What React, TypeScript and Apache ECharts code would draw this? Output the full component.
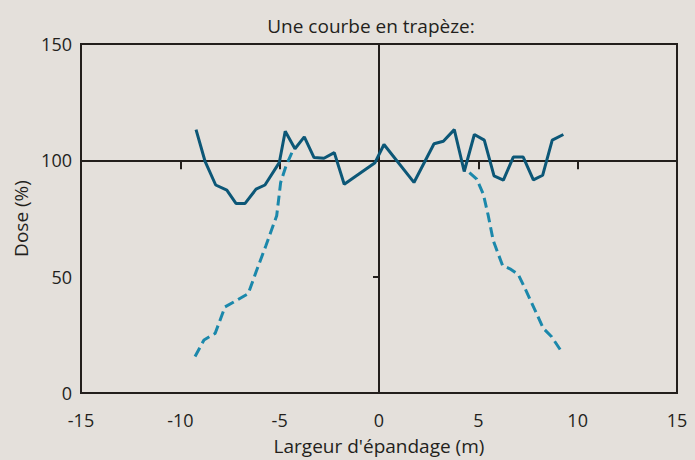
import React, { useEffect, useRef } from "react";
import * as echarts from "echarts";

const solidX = [-9.21, -8.76, -8.22, -7.66, -7.2, -6.74, -6.19, -5.74, -5.02, -4.72, -4.23, -3.76, -3.27, -2.77, -2.25, -1.75, -0.2, 0.25, 1.76, 2.77, 3.24, 3.79, 4.29, 4.8, 5.3, 5.79, 6.26, 6.76, 7.26, 7.77, 8.24, 8.72, 9.28];
const solidY = [113.2, 99.7, 89.4, 87.2, 81.5, 81.5, 87.6, 89.4, 99.0, 112.5, 105.0, 110.1, 101.2, 100.9, 103.3, 89.7, 99.0, 106.8, 90.5, 107.1, 108.2, 113.2, 95.2, 111.1, 108.7, 93.3, 91.5, 101.4, 101.4, 91.6, 93.6, 108.7, 111.1];

const dashLeftX = [-9.26, -8.81, -8.25, -7.75, -7.25, -6.58, -6.19, -5.69, -5.15, -4.95, -4.68, -4.35];
const dashLeftY = [15.7, 22.8, 25.6, 37.0, 39.4, 42.7, 52.0, 63.4, 76.2, 90.5, 97.6, 104.0];

const dashRightX = [4.55, 4.92, 5.25, 5.5, 5.75, 6.22, 6.59, 7.01, 7.43, 8.27, 8.69, 9.24];
const dashRightY = [94.7, 91.9, 85.5, 76.2, 65.5, 54.8, 53.4, 50.9, 43.5, 27.8, 24.2, 17.1];

const xTicks = { min: -15, max: 15, interval: 5 };
const yTicks = { min: 0, max: 150, interval: 50 };

const title = "Une courbe en trapèze:";
const xName = "Largeur d'épandage (m)";
const yName = "Dose (%)";

const zip = (xs: number[], ys: number[]) => xs.map((x, i) => [x, ys[i]]);

const BG = "#e4e0db";
const INK = "#231f1c";
const FONT = "Open Sans";

export default function App() {
  const ref = useRef<HTMLDivElement>(null);
  useEffect(() => {
    if (!ref.current) return;
    const chart = echarts.init(ref.current, null, { renderer: "svg" });
    chart.setOption({
      animation: false,
      backgroundColor: BG,
      textStyle: { fontFamily: FONT },
      title: {
        text: title,
        left: 366,
        textAlign: "center",
        top: 11,
        textStyle: { fontFamily: FONT, fontSize: 19, fontWeight: "normal", color: INK },
      },
      grid: {
        left: 81,
        right: 18,
        top: 44,
        bottom: 65,
        show: true,
        borderColor: INK,
        borderWidth: 2,
        backgroundColor: "transparent",
      },
      xAxis: [
        {
          type: "value",
          ...xTicks,
          position: "bottom",
          name: xName,
          nameLocation: "middle",
          nameGap: 43,
          nameTextStyle: { fontFamily: FONT, fontSize: 19, color: INK },
          axisLine: { show: false },
          axisTick: { show: false },
          splitLine: { show: false },
          axisLabel: { fontFamily: FONT, fontSize: 18, color: INK, margin: 18 },
        },
        {
          type: "value",
          ...xTicks,
          position: "bottom",
          axisLine: { show: true, onZero: true, onZeroAxisIndex: 1, lineStyle: { color: INK, width: 2 } },
          axisTick: { show: true, inside: false, length: 9, lineStyle: { color: INK, width: 2 } },
          axisLabel: { show: false },
          splitLine: { show: false },
        },
      ],
      yAxis: [
        {
          type: "value",
          ...yTicks,
          position: "left",
          name: yName,
          nameLocation: "middle",
          nameGap: 50,
          nameTextStyle: { fontFamily: FONT, fontSize: 19, color: INK },
          axisLine: { show: false },
          axisTick: { show: false },
          splitLine: { show: false },
          axisLabel: { fontFamily: FONT, fontSize: 18, color: INK, margin: 9 },
        },
        {
          type: "value",
          min: -100,
          max: 50,
          interval: 50,
          position: "left",
          axisLine: { show: true, onZero: true, onZeroAxisIndex: 0, lineStyle: { color: INK, width: 2 } },
          axisTick: { show: true, inside: false, length: 6, lineStyle: { color: INK, width: 2 } },
          axisLabel: { show: false },
          splitLine: { show: false },
        },
      ],
      series: [
        {
          type: "line",
          data: zip(dashLeftX, dashLeftY),
          xAxisIndex: 0,
          yAxisIndex: 0,
          symbol: "none",
          lineStyle: { color: "#1b88ab", width: 3, type: [10, 5] },
        },
        {
          type: "line",
          data: zip(dashRightX, dashRightY),
          xAxisIndex: 0,
          yAxisIndex: 0,
          symbol: "none",
          lineStyle: { color: "#1b88ab", width: 3, type: [10, 5] },
        },
        {
          type: "line",
          data: zip(solidX, solidY),
          xAxisIndex: 0,
          yAxisIndex: 0,
          symbol: "none",
          lineStyle: { color: "#0c5777", width: 3 },
        },
      ],
    });
    return () => chart.dispose();
  }, []);
  return <div ref={ref} style={{ width: 695, height: 460, position: "absolute", left: 0, top: 0 }} />;
}
